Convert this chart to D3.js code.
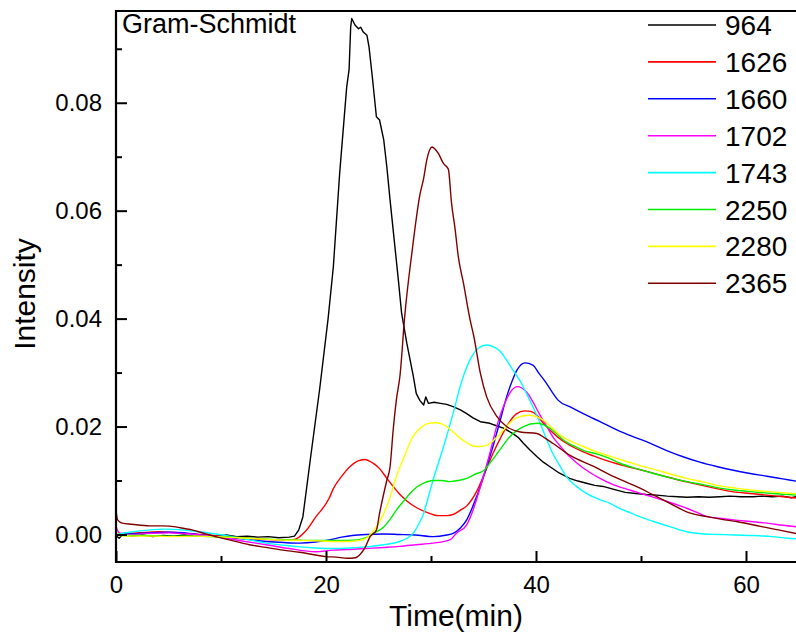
<!DOCTYPE html>
<html>
<head>
<meta charset="utf-8">
<script src="https://cdn.jsdelivr.net/npm/d3@7"></script>
<style>
    body { margin: 0; background: #fff; }
    text { font-family: Arial, "Liberation Sans", sans-serif; fill: #000; }
</style>
</head>
<body>
<div id="chart"></div>
<script>
'use strict';

// wavenumber of each trace (legend order)
const seriesNames = ['964', '1626', '1660', '1702', '1743', '2250', '2280', '2365'];

// [time (min), intensity]
const s964 = [[0,-0.0002],[0.3,-0.0007],[0.6,-0.0001],[1.5,-0.0003],[2.5,-0.0001],[3.5,-0.0004],[4.5,-0.0002],[5.5,-0.0003],[6.5,-0.0001],[7.5,-0.0003],[8.5,-0.0002],[9.5,-0.0003],[10.5,-0.0001],[11.5,-0.0004],[12.5,-0.0003],[13.5,-0.0005],[14.5,-0.0004],[15.5,-0.0006],[16.5,-0.0005],[17.0,-0.0003],[17.4,0.0008],[17.8,0.0033],[18.5,0.0138],[19.4,0.027],[20.2,0.040],[20.7,0.0496],[21.3,0.0669],[21.97,0.0829],[22.2,0.0862],[22.35,0.094],[22.45,0.0956],[22.76,0.0944],[23.1,0.0937],[23.3,0.0940],[23.55,0.0931],[23.9,0.0925],[24.1,0.0903],[24.4,0.085],[24.8,0.0774],[25.1,0.0768],[25.5,0.0731],[25.8,0.068],[26.1,0.062],[26.5,0.0545],[26.9,0.047],[27.2,0.041],[27.7,0.0354],[28.3,0.0295],[28.6,0.0261],[28.95,0.0248],[29.3,0.024],[29.5,0.0255],[29.75,0.0243],[30.3,0.0245],[30.9,0.0243],[31.5,0.0241],[32.1,0.0237],[32.8,0.0231],[33.4,0.0224],[34.0,0.0216],[34.7,0.0209],[35.6,0.0206],[36.3,0.0201],[36.9,0.0197],[37.8,0.0187],[38.3,0.018],[38.8,0.0169],[39.4,0.0157],[40.1,0.0144],[40.7,0.0134],[41.3,0.0126],[42.2,0.0114],[43.2,0.0104],[44.0,0.0099],[44.8,0.0095],[45.6,0.0091],[46.4,0.0089],[47.5,0.0083],[48.5,0.0078],[49.5,0.0076],[50.5,0.0074],[51.5,0.0073],[52.5,0.0071],[53.5,0.0070],[54.4,0.0069],[55.5,0.0070],[56.5,0.0069],[57.5,0.0070],[58.5,0.0071],[59.5,0.0070],[60.7,0.0070],[61.5,0.0071],[62.5,0.0070],[63.5,0.0071],[64.3,0.0068],[65,0.0071]];

const s1626 = [[0,0.0002],[2,0.0003],[4,0.0005],[6,0.0003],[8,0],[10,-0.0003],[12,-0.0006],[14,-0.0009],[16,-0.001],[17,-0.0009],[18,0.0005],[19.05,0.0033],[20.3,0.0067],[20.7,0.0085],[21.5,0.0108],[22.3,0.0126],[23,0.0136],[23.7,0.0139],[24.4,0.0133],[25.1,0.0122],[25.8,0.0104],[26.4,0.0089],[27.05,0.0074],[27.7,0.0062],[28.6,0.005],[29.6,0.0041],[30.7,0.0035],[31.5,0.0035],[32.1,0.0037],[32.8,0.0045],[33.4,0.0053],[34.35,0.008],[35.1,0.0113],[35.9,0.015],[36.6,0.0178],[37.2,0.02],[38.1,0.0223],[38.95,0.0229],[39.5,0.0228],[40.1,0.0221],[40.7,0.0206],[41.3,0.0194],[42.1,0.018],[42.9,0.0169],[44.5,0.0153],[46.1,0.0141],[47.7,0.0131],[49.3,0.0123],[50.9,0.0115],[52.4,0.0107],[54,0.0099],[55.6,0.0092],[57.2,0.0085],[58.8,0.0079],[60.4,0.0076],[62,0.0073],[63.5,0.007],[65,0.0067]];

const s1660 = [[0,0.0002],[1,0.0001],[3,0.0003],[5,0.0004],[7,0.0002],[9.5,-0.0004],[12,-0.0008],[14.3,-0.0013],[16,-0.0015],[17.5,-0.0016],[19,-0.0014],[20.3,-0.001],[21.5,-0.0005],[22.5,-0.0002],[23.8,0],[25.5,0.0001],[27,0],[28.5,-0.0001],[30.2,-0.0004],[31.5,-0.0001],[32.1,0.0002],[32.8,0.0012],[33.4,0.0027],[34,0.0053],[34.7,0.0089],[35.3,0.0125],[35.9,0.0163],[36.6,0.0212],[37.2,0.0255],[37.7,0.0283],[38.2,0.0305],[38.95,0.0318],[39.7,0.0314],[40.3,0.0298],[41,0.028],[41.6,0.0262],[42.1,0.0249],[43.3,0.0236],[44.5,0.0224],[46.1,0.0209],[47.7,0.0194],[49.3,0.0181],[50.9,0.0169],[52.4,0.0156],[54,0.0144],[55.6,0.0134],[57.2,0.0126],[58.8,0.0119],[60.4,0.0113],[62,0.0108],[63.5,0.0103],[65,0.0098]];

const s1702 = [[0,0.0015],[0.3,0.0003],[1,-0.0001],[3,0.0002],[5,0.0003],[7,0.0001],[9.5,-0.0004],[12,-0.0012],[14.3,-0.0019],[16.5,-0.0026],[19,-0.0032],[20.7,-0.0029],[22,-0.0028],[23.8,-0.0026],[25.5,-0.0024],[27,-0.0022],[28.6,-0.0019],[30.2,-0.0016],[31.8,-0.001],[32.4,0.0002],[33.4,0.0018],[34,0.0045],[34.8,0.0095],[35.6,0.015],[36.3,0.0203],[36.9,0.0237],[37.5,0.0262],[38.2,0.0274],[39.1,0.0264],[39.7,0.0246],[40.3,0.0224],[41,0.0201],[41.6,0.0181],[42.3,0.0164],[42.9,0.015],[43.8,0.0134],[44.8,0.0119],[46.1,0.0104],[47.4,0.0092],[49,0.0082],[50.5,0.0073],[52.2,0.0063],[54,0.0051],[55.2,0.0042],[56.3,0.0033],[57.5,0.003],[58.8,0.0027],[60.4,0.0024],[62,0.0021],[63.5,0.0017],[65,0.0014]];

const s1743 = [[0,0],[1.6,0.0005],[3,0.0008],[4.8,0.001],[6.5,0.0008],[7.9,0.0005],[9.5,0.0001],[11.1,-0.0004],[12.7,-0.001],[14.3,-0.0016],[16,-0.002],[17.5,-0.0023],[19,-0.0025],[20.7,-0.0026],[22.3,-0.0025],[23.8,-0.0023],[25.5,-0.0019],[27,-0.0013],[27.7,-0.0007],[28.3,0.0002],[28.8,0.0018],[29.3,0.0039],[29.75,0.007],[30.2,0.0101],[31.2,0.0163],[32.1,0.0224],[32.9,0.0282],[33.7,0.0323],[34.5,0.0345],[35.3,0.0351],[36,0.0347],[36.6,0.0339],[37.2,0.0323],[37.8,0.0305],[38.5,0.0284],[39.1,0.0261],[39.8,0.0233],[40.4,0.0206],[41,0.0177],[41.6,0.015],[42.3,0.0126],[42.9,0.0107],[43.8,0.009],[44.8,0.0076],[46,0.0065],[47,0.0058],[48,0.0048],[49,0.004],[50,0.0032],[51.2,0.0024],[52.8,0.0014],[54.35,0.0005],[56,0.0001],[57.5,0],[59,-0.0001],[60.7,-0.0002],[62.5,-0.0004],[64,-0.0007],[65,-0.0008]];

const s2250 = [[0,-0.0001],[1,-0.0002],[3,-0.0002],[5,-0.0003],[7,-0.0003],[9,-0.0004],[11,-0.0005],[13,-0.0007],[15,-0.0009],[17,-0.001],[19,-0.0011],[21,-0.0011],[23,-0.001],[23.8,-0.0006],[24.6,0.0003],[25.5,0.0014],[26.1,0.0028],[26.7,0.0045],[27.4,0.0062],[28,0.0076],[28.6,0.0087],[29.3,0.0095],[30.2,0.01],[31,0.01],[31.8,0.0098],[32.6,0.01],[33.4,0.0104],[34.35,0.0113],[35,0.0118],[35.6,0.0132],[36.3,0.015],[36.9,0.0166],[37.5,0.0181],[38.2,0.0193],[38.8,0.02],[40.1,0.0206],[41.3,0.0197],[42,0.0186],[42.6,0.0175],[43.5,0.0165],[44.5,0.0156],[46,0.0148],[47,0.0141],[48,0.0132],[49.6,0.0122],[51.2,0.0113],[52.8,0.0105],[54.35,0.0098],[56,0.0092],[57.5,0.0086],[59,0.0082],[60.7,0.0079],[62.5,0.0076],[65,0.0073]];

const s2280 = [[0,0.0005],[0.4,-0.0002],[1.5,-0.0003],[3.5,-0.0003],[5.5,-0.0004],[7.5,-0.0003],[9.5,-0.0004],[11.5,-0.0006],[13.5,-0.0008],[15.5,-0.001],[17.5,-0.0011],[19.5,-0.0012],[21,-0.0013],[22.3,-0.0013],[23.2,-0.0011],[23.8,-0.0007],[24.3,0.0002],[24.8,0.0014],[25.4,0.0035],[25.9,0.0058],[26.3,0.0082],[26.7,0.0107],[27.2,0.0132],[27.7,0.0156],[28.1,0.0175],[28.6,0.019],[29.1,0.0199],[29.6,0.0205],[30.5,0.0207],[31,0.0205],[31.5,0.02],[32.1,0.019],[32.8,0.0178],[33.4,0.017],[34,0.0164],[34.7,0.0163],[35.3,0.0165],[36,0.0175],[36.6,0.0187],[37.2,0.02],[37.8,0.0212],[38.6,0.0219],[39.4,0.0221],[40.1,0.0218],[40.7,0.0212],[41.5,0.0198],[42.3,0.0184],[43.4,0.0172],[44.5,0.0163],[46.1,0.0151],[47.7,0.0141],[49.5,0.013],[51.2,0.0121],[52.8,0.0112],[54.35,0.0104],[56,0.0097],[57.5,0.009],[59,0.0086],[60.7,0.0082],[62.5,0.0079],[65,0.0075]];

const s2365 = [[0,0.0045],[0.15,0.0027],[0.6,0.0021],[1.5,0.0019],[3.2,0.0016],[4.5,0.0016],[5.7,0.0014],[6.5,0.0011],[7.3,0.0008],[8.4,0.0002],[9.5,-0.0004],[11,-0.0011],[12.7,-0.0019],[14.3,-0.0024],[15.9,-0.0029],[17.5,-0.0033],[19,-0.0038],[20,-0.0041],[21,-0.0042],[22,-0.0044],[22.8,-0.0043],[23.2,-0.0038],[23.7,-0.0025],[24.2,-0.0004],[24.8,0.0008],[25.1,0.0039],[25.8,0.0101],[26.1,0.0125],[26.4,0.0194],[26.7,0.0249],[27.05,0.0295],[27.5,0.0405],[28.2,0.0525],[28.95,0.063],[29.3,0.066],[29.6,0.0694],[30.1,0.0718],[30.7,0.0706],[31.2,0.0687],[31.65,0.0677],[31.95,0.0615],[32.3,0.0565],[32.6,0.0515],[33.1,0.0465],[33.7,0.040],[34.1,0.0365],[34.7,0.0299],[35.3,0.0255],[36.3,0.0218],[37.2,0.02],[38.5,0.019],[40.1,0.0187],[40.9,0.0178],[41.6,0.0169],[43.2,0.0147],[45.5,0.0126],[47,0.0111],[48,0.0102],[49.9,0.0086],[51,0.0075],[52.1,0.0064],[53.2,0.0053],[54.35,0.0042],[56.3,0.0033],[57.7,0.0028],[59.1,0.0024],[60.4,0.0019],[61.6,0.0014],[63.2,0.0008],[65,0.0001]];

const seriesValues = [s964, s1626, s1660, s1702, s1743, s2250, s2280, s2365];

// tick labels
const xTicks = [0, 20, 40, 60];
const xMinorTicks = [10, 30, 50];
const yTicks = [0, 0.02, 0.04, 0.06, 0.08];
const yMinorTicks = [0.01, 0.03, 0.05, 0.07, 0.09];

// Origin default line colours
const seriesColors = ['#000000', '#ff0000', '#0000ff', '#ff00ff', '#00ffff', '#00ee00', '#ffff00', '#800000'];


class GsChart {

    constructor(_parent) {
        this.parent = _parent;
        this.initVis();
    }

    initVis() {
        const vis = this;

        vis.w = 796;
        vis.h = 636;

        vis.svg = d3.select(`#${vis.parent}`)
            .append('svg')
            .attr('width', vis.w)
            .attr('height', vis.h);

        vis.svg.append('rect')
            .attr('width', vis.w)
            .attr('height', vis.h)
            .attr('fill', '#fff');

        // plot box in page pixels
        vis.left = 116;
        vis.top = 11;
        vis.bottom = 562;
        vis.right = 796;

        vis.xScale = d3.scaleLinear()
            .domain([0, 65])
            .range([vis.left, 798.5]);

        vis.yScale = d3.scaleLinear()
            .domain([-0.0051, 0.097])
            .range([vis.bottom, vis.top]);

        vis.svg.append('clipPath')
            .attr('id', 'plotClip')
            .append('rect')
            .attr('x', vis.left)
            .attr('y', vis.top)
            .attr('width', vis.right - vis.left)
            .attr('height', vis.bottom - vis.top);

        vis.lineG = vis.svg.append('g')
            .attr('clip-path', 'url(#plotClip)');

        vis.axisG = vis.svg.append('g');
        vis.legendG = vis.svg.append('g');

        vis.updateVis();
    }

    updateVis() {
        const vis = this;

        // traces
        vis.lineG.selectAll('.trace')
            .data(seriesValues)
            .join('path')
            .attr('class', 'trace')
            .attr('fill', 'none')
            .attr('stroke', (d, i) => seriesColors[i])
            .attr('stroke-width', 1.4)
            .attr('stroke-linejoin', 'round')
            .attr('d', (d, i) => d3.line()
                .x(p => vis.xScale(p[0]))
                .y(p => vis.yScale(p[1]))
                .curve(i === 0 ? d3.curveLinear : d3.curveMonotoneX)(d));

        // x axis (ticks point inward)
        const xAxis = vis.axisG.append('g')
            .attr('transform', `translate(0,${vis.bottom})`)
            .call(d3.axisBottom(vis.xScale)
                .tickValues(xTicks)
                .tickFormat(d3.format('d'))
                .tickSizeInner(-11)
                .tickSizeOuter(0)
                .tickPadding(14));
        xAxis.select('.domain').remove();
        xAxis.selectAll('text').style('font-size', '24px');

        vis.axisG.append('g')
            .attr('transform', `translate(0,${vis.bottom})`)
            .call(d3.axisBottom(vis.xScale)
                .tickValues(xMinorTicks)
                .tickFormat('')
                .tickSizeInner(-6)
                .tickSizeOuter(0))
            .select('.domain').remove();

        // y axis
        const yAxis = vis.axisG.append('g')
            .attr('transform', `translate(${vis.left},0)`)
            .call(d3.axisLeft(vis.yScale)
                .tickValues(yTicks)
                .tickFormat(d3.format('.2f'))
                .tickSizeInner(-11)
                .tickSizeOuter(0)
                .tickPadding(14));
        yAxis.select('.domain').remove();
        yAxis.selectAll('text').style('font-size', '24px');

        vis.axisG.append('g')
            .attr('transform', `translate(${vis.left},0)`)
            .call(d3.axisLeft(vis.yScale)
                .tickValues(yMinorTicks)
                .tickFormat('')
                .tickSizeInner(-6)
                .tickSizeOuter(0))
            .select('.domain').remove();

        vis.axisG.selectAll('.tick line')
            .attr('stroke', '#000')
            .attr('stroke-width', 2);

        // frame: left, bottom, top
        vis.axisG.append('path')
            .attr('d', `M${vis.right},${vis.top}H${vis.left}V${vis.bottom}H${vis.right}`)
            .attr('fill', 'none')
            .attr('stroke', '#000')
            .attr('stroke-width', 2.2);

        // titles
        vis.axisG.append('text')
            .attr('x', (vis.left + vis.right) / 2)
            .attr('y', 626)
            .attr('text-anchor', 'middle')
            .style('font-size', '30px')
            .text('Time(min)');

        vis.axisG.append('text')
            .attr('transform', 'translate(35,294) rotate(-90)')
            .attr('text-anchor', 'middle')
            .style('font-size', '30px')
            .text('Intensity');

        vis.axisG.append('text')
            .attr('x', 122)
            .attr('y', 33)
            .style('font-size', '27px')
            .text('Gram-Schmidt');

        // legend
        const rows = vis.legendG.selectAll('.legRow')
            .data(seriesNames)
            .join('g')
            .attr('class', 'legRow')
            .attr('transform', (d, i) => `translate(648,${25 + i * 36.9})`);

        rows.append('line')
            .attr('x1', 0)
            .attr('x2', 68)
            .attr('stroke', (d, i) => seriesColors[i])
            .attr('stroke-width', 1.6);

        rows.append('text')
            .attr('x', 77)
            .attr('dy', '0.36em')
            .style('font-size', '28px')
            .text(d => d);
    }
}

new GsChart('chart');
</script>
</body>
</html>
